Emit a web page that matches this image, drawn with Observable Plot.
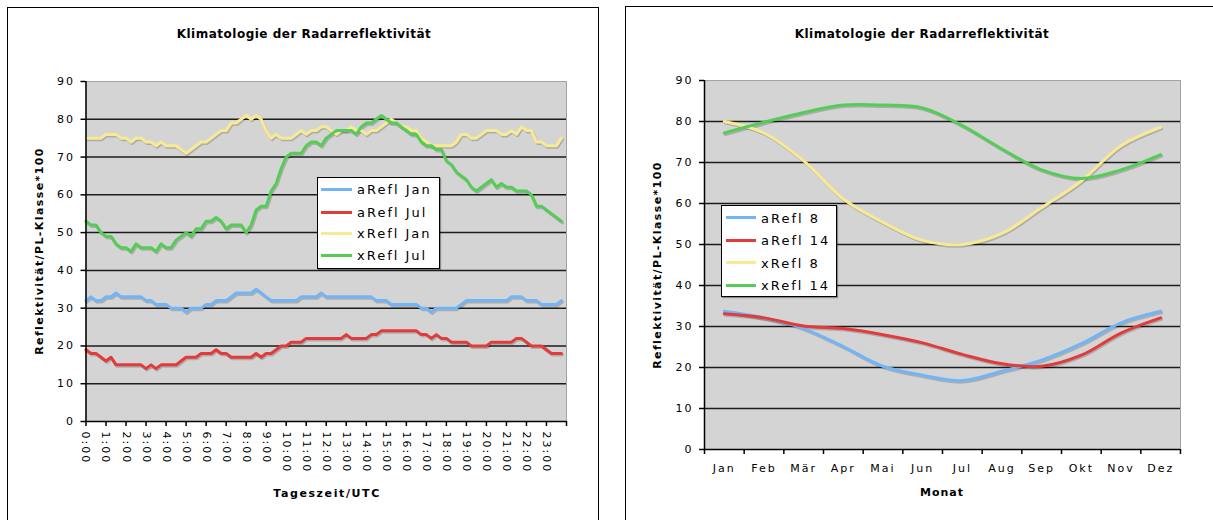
<!DOCTYPE html>
<html><head><meta charset="utf-8">
<script src="https://cdn.jsdelivr.net/npm/d3@7"></script>
<script src="https://cdn.jsdelivr.net/npm/@observablehq/plot@0.6"></script>
<style>
body{margin:0;background:#fff;width:1213px;height:520px;overflow:hidden;position:relative;font-family:"DejaVu Sans",Verdana,sans-serif;color:#000;}
.panel{position:absolute;border:1px solid #000;background:#fff;}
.t{position:absolute;font-weight:bold;font-size:12px;letter-spacing:0.5px;white-space:nowrap;transform:translate(-50%,-50%);}
.yl{position:absolute;font-weight:bold;font-size:11px;white-space:nowrap;transform:translate(-50%,-50%) rotate(-90deg);letter-spacing:1.4px;}
.chart{position:absolute;top:0;}
.legend{position:absolute;background:#fff;border:1px solid #000;box-shadow:1px 1px 1px rgba(0,0,0,0.35);}
.sw{position:absolute;height:3px;}
.lt{position:absolute;font-size:13px;letter-spacing:2px;white-space:nowrap;transform:translateY(-50%);}
</style></head>
<body>
<div class="panel" style="left:7px;top:7px;width:590px;height:530px"></div>
<div class="panel" style="left:625px;top:6px;width:600px;height:530px"></div>
<div class="t" style="left:304px;top:34px">Klimatologie der Radarreflektivität</div>
<div class="t" style="left:922px;top:34px">Klimatologie der Radarreflektivität</div>
<div class="yl" style="left:39px;top:251px">Reflektivität/PL-Klasse*100</div>
<div class="yl" style="left:657px;top:265px">Reflektivität/PL-Klasse*100</div>
<div class="t" style="left:327px;top:493px;font-size:11px;letter-spacing:1.6px">Tageszeit/UTC</div>
<div class="t" style="left:942px;top:492px;font-size:11px;letter-spacing:1px">Monat</div>
<div id="c1" class="chart" style="left:0"></div>
<div id="c2" class="chart" style="left:610px"></div>
<div id="lg1" class="legend" style="left:317px;top:177px;width:121px;height:90px"></div>
<div id="lg2" class="legend" style="left:721px;top:205px;width:114px;height:90px"></div>
<script>
// ---- Left chart: daily course (15-minute steps) ----
const dayStepsPerHour = 4;
const hourTicks = [0,1,2,3,4,5,6,7,8,9,10,11,12,13,14,15,16,17,18,19,20,21,22,23,24];
const aReflJan = [
 32,33,32,32,33,33,34,33,33,33,33,33,32,32,31,31,31,30,30,30,29,30,30,30,
 31,31,32,32,32,33,34,34,34,34,35,34,33,32,32,32,32,32,32,33,33,33,33,34,
 33,33,33,33,33,33,33,33,33,33,32,32,32,31,31,31,31,31,31,30,30,29,30,30,
 30,30,30,31,32,32,32,32,32,32,32,32,32,33,33,33,32,32,32,31,31,31,31,32];
const aReflJul = [
 19,18,18,17,16,17,15,15,15,15,15,15,14,15,14,15,15,15,15,16,17,17,17,18,
 18,18,19,18,18,17,17,17,17,17,18,17,18,18,19,20,20,21,21,21,22,22,22,22,
 22,22,22,22,23,22,22,22,22,23,23,24,24,24,24,24,24,24,24,23,23,22,23,22,
 22,21,21,21,21,20,20,20,20,21,21,21,21,21,22,22,21,20,20,20,19,18,18,18];
const xReflJan = [
 75,75,75,75,76,76,76,75,75,74,75,75,74,74,73,74,73,73,73,72,71,72,73,74,
 74,75,76,77,77,79,79,80,81,80,81,80,77,75,76,75,75,75,76,77,76,77,77,78,
 78,77,76,77,77,78,77,77,76,77,77,78,79,80,79,78,78,77,77,75,74,73,73,73,
 73,73,74,76,76,75,75,76,77,77,77,76,76,77,76,78,77,77,74,74,73,73,73,75];
const xReflJul = [
 53,52,52,50,49,49,47,46,46,45,47,46,46,46,45,47,46,46,48,49,50,49,51,51,
 53,53,54,53,51,52,52,52,50,52,56,57,57,61,63,67,70,71,71,71,73,74,74,73,
 75,76,77,77,77,77,76,78,79,79,80,81,80,79,79,78,77,76,76,74,73,73,72,72,
 69,68,66,65,64,62,61,62,63,64,62,63,62,62,61,61,61,60,57,57,56,55,54,53];
const seriesDay = ["aRefl Jan","aRefl Jul","xRefl Jan","xRefl Jul"];

// ---- Right chart: annual course ----
const months = ["Jan","Feb","Mär","Apr","Mai","Jun","Jul","Aug","Sep","Okt","Nov","Dez"];
const aRefl8  = [33.7,32.1,29.5,25.1,20.3,18.1,16.8,19.1,21.8,25.8,30.9,33.7];
const aRefl14 = [33.1,32.1,30.1,29.5,28.0,26.0,23.2,20.9,20.3,23.0,28.4,32.1];
const xRefl8  = [80.0,77.2,70.4,61.1,55.4,51.0,50.0,52.7,59.0,65.5,74.1,78.6];
const xRefl14 = [77.2,79.8,82.2,84.0,84.0,83.3,79.0,73.3,68.2,66.1,68.2,71.9];
const seriesYear = ["aRefl 8","aRefl 14","xRefl 8","xRefl 14"];

const yTicks = [0,10,20,30,40,50,60,70,80,90];
const gridTicks = [10,20,30,40,50,60,70,80];
const colors = ["#72b5f7","#e23b3b","#f8ea92","#55cc55"];

const dayData = [];
[aReflJan,aReflJul,xReflJan,xReflJul].forEach((arr,si)=>arr.forEach((v,i)=>dayData.push({s:seriesDay[si], t:i/dayStepsPerHour, v})));
const yearData = [];
[aRefl8,aRefl14,xRefl8,xRefl14].forEach((arr,si)=>arr.forEach((v,i)=>yearData.push({s:seriesYear[si], m:i, v})));

const axisStyle = {fontFamily:"DejaVu Sans, Verdana, sans-serif", fontSize:"11px", letterSpacing:"2px", color:"#000", background:"transparent", overflow:"visible"};

const p1 = Plot.plot({
  width:600, height:520,
  marginLeft:85.5, marginRight:34, marginTop:81, marginBottom:99,
  style: axisStyle,
  x:{domain:[0,24]},
  y:{domain:[0,90]},
  color:{domain:seriesDay, range:colors},
  marks:[
    Plot.frame({fill:"#d4d4d4", stroke:"#a3a3a3"}),
    Plot.ruleY(gridTicks,{stroke:"#1c1c1c", strokeWidth:1.5}),
    Plot.line(dayData,{x:"t",y:"v",z:"s",stroke:"#000",strokeOpacity:0.18,strokeWidth:3,dx:1,dy:1.5}),
    Plot.line(dayData,{x:"t",y:"v",stroke:"s",strokeWidth:3}),
    Plot.ruleX([0],{stroke:"#000",strokeWidth:1.5}),
    Plot.ruleY([0],{stroke:"#000",strokeWidth:1.5}),
    Plot.axisY(yTicks,{tickSize:5, tickPadding:6, label:null, stroke:"#000", strokeWidth:1.5}),
    Plot.axisX(hourTicks,{tickSize:5, tickPadding:5, tickRotate:90, label:null, stroke:"#000", strokeWidth:1.5,
      tickFormat:d=> d<24 ? d+":00" : ""})
  ]
});
document.getElementById("c1").appendChild(p1);

const p2 = Plot.plot({
  width:603, height:520,
  marginLeft:94, marginRight:33, marginTop:80, marginBottom:71,
  style: axisStyle,
  x:{domain:[-0.5,11.5]},
  y:{domain:[0,90]},
  color:{domain:seriesYear, range:colors},
  marks:[
    Plot.frame({fill:"#d4d4d4", stroke:"#a3a3a3"}),
    Plot.ruleY(gridTicks,{stroke:"#1c1c1c", strokeWidth:1.5}),
    Plot.line(yearData,{x:"m",y:"v",z:"s",stroke:"#000",strokeOpacity:0.18,strokeWidth:3,dx:1,dy:1.5,curve:"catmull-rom"}),
    Plot.line(yearData,{x:"m",y:"v",stroke:"s",strokeWidth:3,curve:"catmull-rom"}),
    Plot.ruleX([-0.5],{stroke:"#000",strokeWidth:1.5}),
    Plot.ruleY([0],{stroke:"#000",strokeWidth:1.5}),
    Plot.axisY(yTicks,{tickSize:5, tickPadding:6, label:null, stroke:"#000", strokeWidth:1.5}),
    Plot.axisX(months.map((m,i)=>i-0.5).concat([11.5]),{tickSize:5, text:null, label:null, stroke:"#000", strokeWidth:1.5}),
    Plot.axisX(months.map((m,i)=>i),{tickSize:0, tickPadding:15, label:null, tickFormat:i=>months[i]})
  ]
});
document.getElementById("c2").appendChild(p2);

function legend(id, names, rowTops, swLeft, swWidth, textLeft){
  const el = document.getElementById(id);
  names.forEach((n,i)=>{
    const sw = document.createElement("div");
    sw.className="sw"; sw.style.left=swLeft+"px"; sw.style.width=swWidth+"px";
    sw.style.top=(rowTops[i]-1.5)+"px"; sw.style.background=colors[i];
    el.appendChild(sw);
    const tx = document.createElement("div");
    tx.className="lt"; tx.style.left=textLeft+"px"; tx.style.top=rowTops[i]+"px"; tx.textContent=n;
    el.appendChild(tx);
  });
}
legend("lg1", seriesDay, [11,34,55,77], 3, 31, 39);
legend("lg2", seriesYear, [11.5,34,56.5,79], 4, 30, 39);
</script>
</body></html>
